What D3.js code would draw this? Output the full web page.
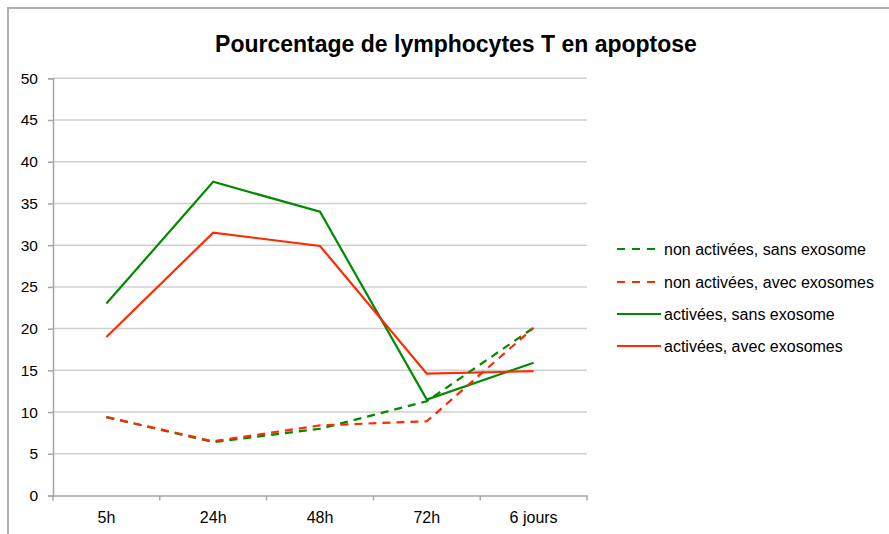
<!DOCTYPE html>
<html><head><meta charset="utf-8">
<script src="https://cdn.jsdelivr.net/npm/d3@7"></script>
<style>body{margin:0;background:#fff;}svg{display:block;font-family:"Liberation Sans",Arial,sans-serif;}</style>
</head><body><svg id="c" width="889" height="534"></svg>
<script>
const categories = ["5h","24h","48h","72h","6 jours"];
const seriesNames = ["non activées, sans exosome","non activées, avec exosomes","activées, sans exosome","activées, avec exosomes"];
const nonActSans = [9.4, 6.4, 8.0, 11.3, 20.1];
const nonActAvec = [9.4, 6.5, 8.4, 8.9, 20.1];
const actSans = [23.0, 37.6, 34.0, 11.5, 15.9];
const actAvec = [19.0, 31.5, 29.9, 14.6, 14.9];
const yTicks = [0,5,10,15,20,25,30,35,40,45,50];
const colors = ["#008a00","#ff2a00","#008a00","#ff2a00"];
const dashed = [true,true,false,false];
const allSeries = [nonActSans, nonActAvec, actSans, actAvec];

const svg = d3.select("#c");
svg.append("rect").attr("x",8).attr("y",8).attr("width",900).attr("height",540)
  .attr("fill","#fff").attr("stroke","#b0b0b0").attr("stroke-width",2);

svg.append("text").attr("x",456).attr("y",52).attr("text-anchor","middle")
  .attr("font-size",23).attr("font-weight","bold").attr("fill","#000")
  .text("Pourcentage de lymphocytes T en apoptose");

const L=53, R=587, T=78.3, B=495.5;
const x = d3.scaleBand().domain(categories).range([L,R]);
const y = d3.scaleLinear().domain([0,50]).range([B,T]);

svg.append("g").selectAll("line").data(yTicks.filter(d=>d>0)).join("line")
  .attr("x1",L).attr("x2",R).attr("y1",d=>y(d)).attr("y2",d=>y(d))
  .attr("stroke","#d0d0d0").attr("stroke-width",1.5);

const ya = svg.append("g").attr("transform",`translate(${L},0)`)
  .call(d3.axisLeft(y).tickValues(yTicks).tickSize(5).tickPadding(10));
ya.select(".domain").attr("stroke","#a6a6a6").attr("stroke-width",1.5);
ya.selectAll(".tick line").attr("stroke","#a6a6a6").attr("stroke-width",1.5);
ya.selectAll("text").attr("font-size",15.5).attr("fill","#000").attr("font-family","Liberation Sans, Arial, sans-serif");

const xa = svg.append("g").attr("transform",`translate(0,${B})`)
  .call(d3.axisBottom(x).tickSize(0).tickPadding(16));
xa.select(".domain").attr("stroke","#a6a6a6").attr("stroke-width",1.5);
xa.selectAll("text").attr("font-size",16).attr("fill","#000").attr("font-family","Liberation Sans, Arial, sans-serif");
const bounds = d3.range(categories.length+1).map(i=>L + i*x.step());
svg.append("g").selectAll("line").data(bounds).join("line")
  .attr("x1",d=>d).attr("x2",d=>d).attr("y1",B).attr("y2",B+5)
  .attr("stroke","#a6a6a6").attr("stroke-width",1.5);

const line = d3.line().x((d,i)=>x(categories[i])+x.bandwidth()/2).y(d=>y(d));
const order = [2,3,0,1];
order.forEach(k=>{
  svg.append("path").attr("d",line(allSeries[k])).attr("fill","none")
    .attr("stroke",colors[k]).attr("stroke-width",2.2)
    .attr("stroke-dasharray",dashed[k]?"8,6":null).attr("stroke-linejoin","miter");
});

const ly = [249,282,314,346];
seriesNames.forEach((n,i)=>{
  svg.append("line").attr("x1",617).attr("x2",661).attr("y1",ly[i]).attr("y2",ly[i])
    .attr("stroke",colors[i]).attr("stroke-width",2.2)
    .attr("stroke-dasharray",dashed[i]?"8,7":null);
  svg.append("text").attr("x",664).attr("y",ly[i]+5.5).attr("font-size",16).attr("fill","#000").text(n);
});
</script></body></html>
